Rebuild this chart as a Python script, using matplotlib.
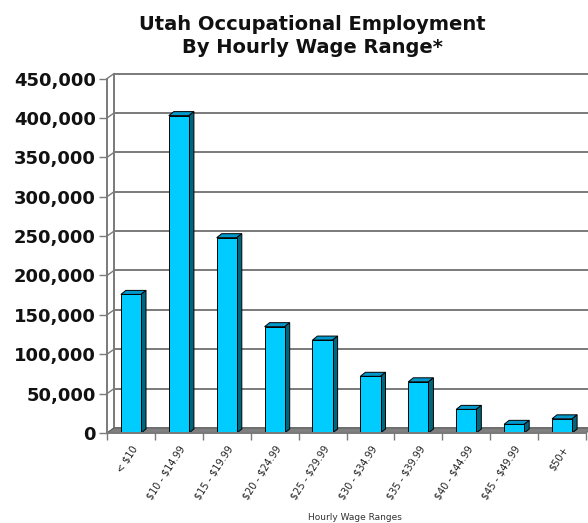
import numpy as np
import matplotlib

matplotlib.use("Agg")
import matplotlib.pyplot as plt
from matplotlib.patches import Polygon

# Utah occupational employment counts by hourly wage band
wage_ranges = [
    "< $10",
    "$10 - $14.99",
    "$15 - $19.99",
    "$20 - $24.99",
    "$25 - $29.99",
    "$30 - $34.99",
    "$35 - $39.99",
    "$40 - $44.99",
    "$45 - $49.99",
    "$50+",
]
employment = [176000, 403000, 248000, 135000, 118000, 72000, 65000, 30000, 11000, 18000]
y_ticks = np.arange(0, 450001, 50000)
y_max = 450000

W, H = 588, 523
fig = plt.figure(figsize=(W / 100, H / 100), dpi=100)

# front plane of the plot area, in pixels
left_px, right_px, floor_px, top_px = 107, 586, 433, 78.6
ax = fig.add_axes([left_px / W, (H - floor_px) / H,
                   (right_px - left_px) / W, (floor_px - top_px) / H])
n = len(wage_ranges)
ax.set_xlim(0, n)
ax.set_ylim(0, y_max)

# convert pixel depth offsets to data units
px_x = n / (right_px - left_px)
px_y = y_max / (floor_px - top_px)
wall_dx, wall_dy = 7 * px_x, 5 * px_y
bar_dx, bar_dy = 5 * px_x, 4 * px_y

grid_col = "#7a7a7a"

# back wall gridlines + side wall
for v in y_ticks:
    ax.plot([wall_dx, n + 1], [v + wall_dy, v + wall_dy], color=grid_col,
            lw=1.4, clip_on=False, zorder=1)
    ax.plot([0, wall_dx], [v, v + wall_dy], color=grid_col, lw=1.0,
            clip_on=False, zorder=1)
ax.plot([wall_dx, wall_dx], [wall_dy, y_max + wall_dy], color=grid_col,
        lw=1.4, clip_on=False, zorder=1)

# floor
floor = Polygon([(0, 0), (n, 0), (n + wall_dx, wall_dy), (wall_dx, wall_dy)],
                closed=True, facecolor="#7f7f7f", edgecolor="#5a5a5a",
                lw=0.6, clip_on=False, zorder=2)
ax.add_patch(floor)

# 3d-ish columns: front face, top face, right side face
bw = 0.42
centers = np.arange(n) + 0.5
ax.bar(centers, employment, width=bw, color="#00CCFF", edgecolor="black",
       lw=0.7, zorder=4)
for c, v in zip(centers, employment):
    l, r = c - bw / 2, c + bw / 2
    top = Polygon([(l, v), (r, v), (r + bar_dx, v + bar_dy), (l + bar_dx, v + bar_dy)],
                  closed=True, facecolor="#0099CC", edgecolor="black", lw=0.7,
                  clip_on=False, zorder=3)
    side = Polygon([(r, 0), (r + bar_dx, bar_dy), (r + bar_dx, v + bar_dy), (r, v)],
                   closed=True, facecolor="#006680", edgecolor="black", lw=0.7,
                   clip_on=False, zorder=3)
    ax.add_patch(top)
    ax.add_patch(side)

# axes styling
for s in ["top", "right"]:
    ax.spines[s].set_visible(False)
for s in ["left", "bottom"]:
    ax.spines[s].set_color(grid_col)
    ax.spines[s].set_linewidth(1.4)
    ax.spines[s].set_zorder(5)

ax.set_yticks(y_ticks)
ax.set_yticklabels([f"{v:,}" for v in y_ticks], fontsize=13,
                   fontweight="bold", color="#111111")
ax.tick_params(axis="y", length=6, width=1.0, color=grid_col, pad=2)

ax.set_xticks(np.arange(n + 1))
ax.set_xticklabels([])
ax.tick_params(axis="x", which="major", length=5, width=1.0, color=grid_col)
ax.set_xticks(centers, minor=True)
# escape dollar signs so they are not read as mathtext
ax.set_xticklabels([w.replace("$", r"\$") for w in wage_ranges], minor=True,
                   rotation=57, ha="right", rotation_mode="anchor",
                   fontsize=7, color="#222222")
ax.tick_params(axis="x", which="minor", length=0, pad=8)

fig.text(312 / W, 1 - 36 / H, "Utah Occupational Employment\nBy Hourly Wage Range*",
         ha="center", va="center", fontsize=14, fontweight="bold",
         color="#111111", linespacing=1.3)
fig.text(355 / W, 1 - 517 / H, "Hourly Wage Ranges", ha="center", va="center",
         fontsize=6.5, color="#333333")

plt.savefig("out.png", dpi=100)
